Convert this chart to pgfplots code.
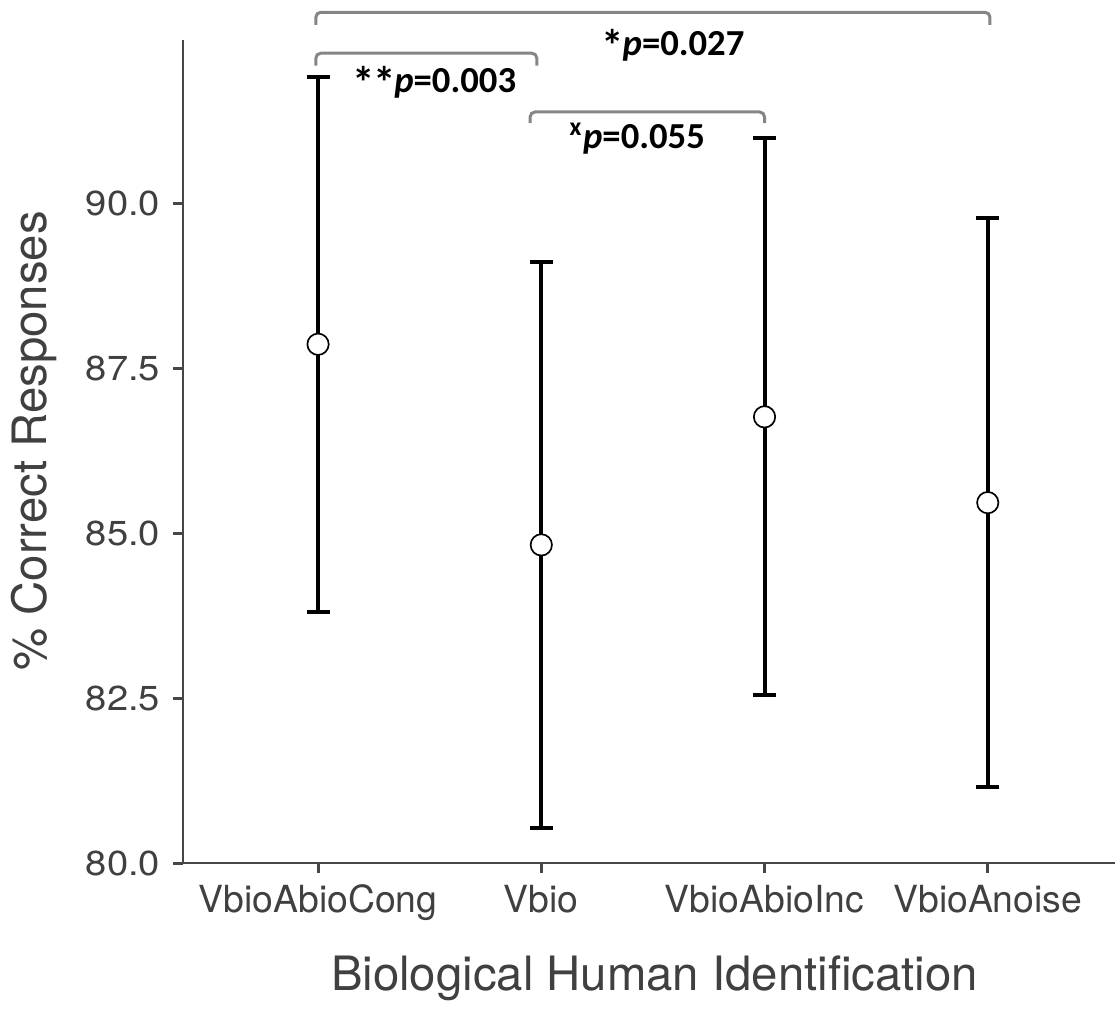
\documentclass[border=0pt]{standalone}
\usepackage{pgfplots}
\pgfplotsset{compat=1.18}
\usepackage{fontspec}
\setmainfont{TeX Gyre Heros}
\newfontfamily\calibri{Carlito}
\definecolor{axgray}{gray}{0.28}
\definecolor{txtgray}{gray}{0.25}
\definecolor{brgray}{gray}{0.52}
\newcommand{\sigast}{\raisebox{-0.35ex}{\fontsize{13.5}{13}\selectfont *}\kern-0.4pt}

\begin{document}
\begin{tikzpicture}
\begin{axis}[
  scale only axis, width=279.6pt, height=246.9pt,
  xmin=0.395, xmax=4.57, ymin=80, ymax=92.47,
  axis lines=left, axis line style={draw=axgray, line width=0.7pt, -},
  xtick={1,2,3,4},
  xticklabels={VbioAbioCong,Vbio,VbioAbioInc,VbioAnoise},
  ytick={80,82.5,85,87.5,90},
  /pgf/number format/assume math mode=true,
  y tick label style={/pgf/number format/fixed, /pgf/number format/fixed zerofill,
    /pgf/number format/precision=1, font=\fontsize{10.4}{12}\selectfont, xscale=1.1},
  x tick label style={font=\fontsize{11.2}{13}\selectfont},
  tick label style={text=txtgray},
  tick align=outside, major tick length=3pt,
  tick style={draw=axgray, line width=0.9pt},
  xlabel={Biological Human Identification},
  ylabel={\% Correct Responses},
  label style={text=txtgray, font=\fontsize{14.2}{16}\selectfont},
  xlabel style={at={(axis description cs:0.506,-0.14)}, anchor=center},
  ylabel style={at={(axis description cs:-0.16,0.513)}, anchor=center},
  clip=false,
]
\addplot[only marks, mark=*, mark size=3.2pt,
  mark options={fill=white, draw=black, line width=0.5pt},
  error bars/.cd, y dir=both, y explicit,
  error bar style={black, line width=1.2pt},
  error mark options={black, line width=1.2pt, mark size=3.45pt, rotate=90}]
coordinates {
  (1,87.86) +- (0,4.05)
  (2,84.82) +- (0,4.29)
  (3,86.76) +- (0,4.22)
  (4,85.46) +- (0,4.31)
};

% significance brackets
\draw[brgray, line width=0.9pt, rounded corners=1.5pt]
  (axis cs:0.99,92.70) |- (axis cs:4.01,92.89) -- (axis cs:4.01,92.70);
\draw[brgray, line width=0.9pt, rounded corners=1.5pt]
  (axis cs:0.99,92.08) |- (axis cs:1.98,92.27) -- (axis cs:1.98,92.08);
\draw[brgray, line width=0.9pt, rounded corners=1.5pt]
  (axis cs:1.95,91.21) |- (axis cs:3.0,91.38) -- (axis cs:3.0,91.21);
\node[font=\calibri\bfseries\fontsize{11}{13}\selectfont] at (axis cs:2.59,92.39) {\sigast\textit{p}=0.027};
\node[font=\calibri\bfseries\fontsize{11}{13}\selectfont] at (axis cs:1.52,91.83) {\sigast\sigast\textit{p}=0.003};
\node[font=\calibri\bfseries\fontsize{11}{13}\selectfont] at (axis cs:2.43,90.98) {\textsuperscript{x}\textit{p}=0.055};
\end{axis}
\pgfresetboundingbox
\path[use as bounding box] (current axis.south west) ++(-54.9pt,-43.8pt) rectangle ++(334.5pt,302.7pt);
\end{tikzpicture}
\end{document}
